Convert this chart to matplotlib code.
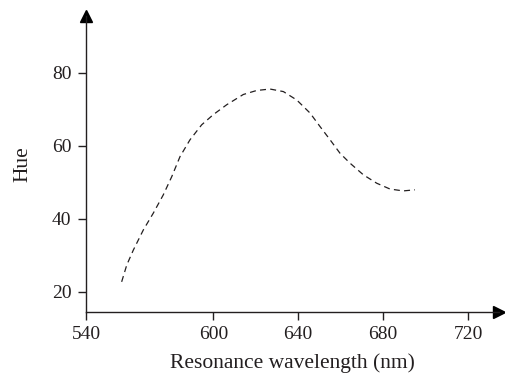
import matplotlib
matplotlib.use("Agg")
import matplotlib.pyplot as plt

# Data
wavelength = [556.8, 559.2, 562.3, 567.0, 571.7, 576.4, 580.4, 584.3, 589.0, 594.5,
              600.0, 606.3, 614.1, 620.4, 626.7, 633.0, 639.3, 645.6, 650.3, 655.0,
              659.7, 664.4, 670.7, 677.0, 683.3, 689.5, 695.0]
hue = [22.7, 27.3, 31.4, 36.9, 41.5, 46.5, 51.5, 57.0, 61.6, 65.7,
       68.5, 71.2, 74.0, 75.1, 75.5, 74.8, 72.5, 68.9, 65.2, 61.6,
       57.9, 55.2, 52.0, 49.7, 48.1, 47.6, 47.9]
x_ticks = [540, 600, 640, 680, 720]
y_ticks = [20, 40, 60, 80]

plt.rcParams['font.family'] = ['Liberation Serif', 'DejaVu Serif']
txt = '#231f20'

fig = plt.figure(figsize=(5.05, 3.79), dpi=100)
ax = fig.add_axes([86/505, 67.3/379, (499-86)/505, (311.7-16)/379])

ax.plot(wavelength, hue, color='#231f20', lw=0.9, linestyle=(0, (4.8, 3.4)))

ax.set_xlim(540, 734.6)
ax.set_ylim(14.52, 95.5)
ax.set_xticks(x_ticks)
ax.set_yticks(y_ticks)

for s in ['top', 'right']:
    ax.spines[s].set_visible(False)
for s in ['left', 'bottom']:
    ax.spines[s].set_color(txt)
    ax.spines[s].set_linewidth(1.0)

ax.tick_params(direction='out', length=5.5, width=1.0, colors=txt,
               labelsize=14, labelcolor=txt)
ax.tick_params(axis='x', pad=5)
ax.tick_params(axis='y', pad=5)

ax.set_xlabel('Resonance wavelength (nm)', fontsize=15.5, color=txt, labelpad=7)
ax.set_ylabel('Hue', fontsize=15.5, color=txt, labelpad=14)

# arrowheads
ax.plot(1, 0, '>', color='black', markersize=8.6, transform=ax.transAxes, clip_on=False)
ax.plot(0, 1, '^', color='black', markersize=8.6, transform=ax.transAxes, clip_on=False)

fig.savefig('out.png', dpi=100)
